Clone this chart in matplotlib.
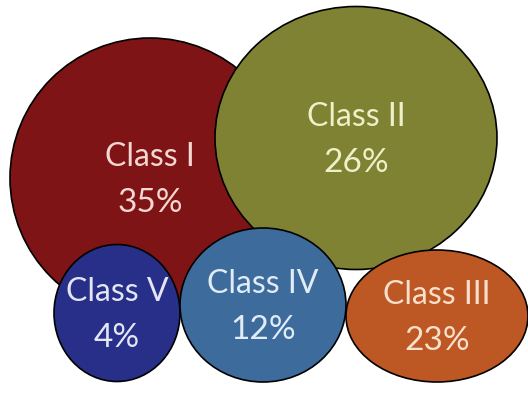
import matplotlib.pyplot as plt
from matplotlib.patches import Ellipse

classes = ['Class I', 'Class II', 'Class V', 'Class IV', 'Class III']
shares = [35, 26, 4, 12, 23]

# bubble layout in pixel units (centre x, centre y, width, height)
cx = [150, 356, 117, 263, 437]
cy = [178, 138, 313, 305, 316]
w = [280, 282, 126, 166, 182]
h = [280, 263, 137, 154, 132]
fills = ['#7e1416', '#7f8233', '#272f89', '#3d6c9c', '#bd5724']
text_colors = ['#f6d8d2', '#eef0c8', '#e4e6f4', '#e2ecf6', '#f8e0cc']

fig = plt.figure(figsize=(5.28, 3.94), dpi=100)
ax = fig.add_axes([0, 0, 1, 1])
ax.set_xlim(0, 528)
ax.set_ylim(394, 0)
ax.axis('off')

for i, name in enumerate(classes):
    ax.add_patch(Ellipse((cx[i], cy[i]), w[i], h[i], facecolor=fills[i],
                         edgecolor='black', linewidth=1.2, zorder=i + 1))
    ax.text(cx[i], cy[i] - 21, name, ha='center', va='center', fontsize=23,
            family='Lato', color=text_colors[i], zorder=10)
    ax.text(cx[i], cy[i] + 25, f'{shares[i]}%', ha='center', va='center',
            fontsize=24, family='Lato', color=text_colors[i], zorder=10)

fig.savefig('out.png', dpi=100)
